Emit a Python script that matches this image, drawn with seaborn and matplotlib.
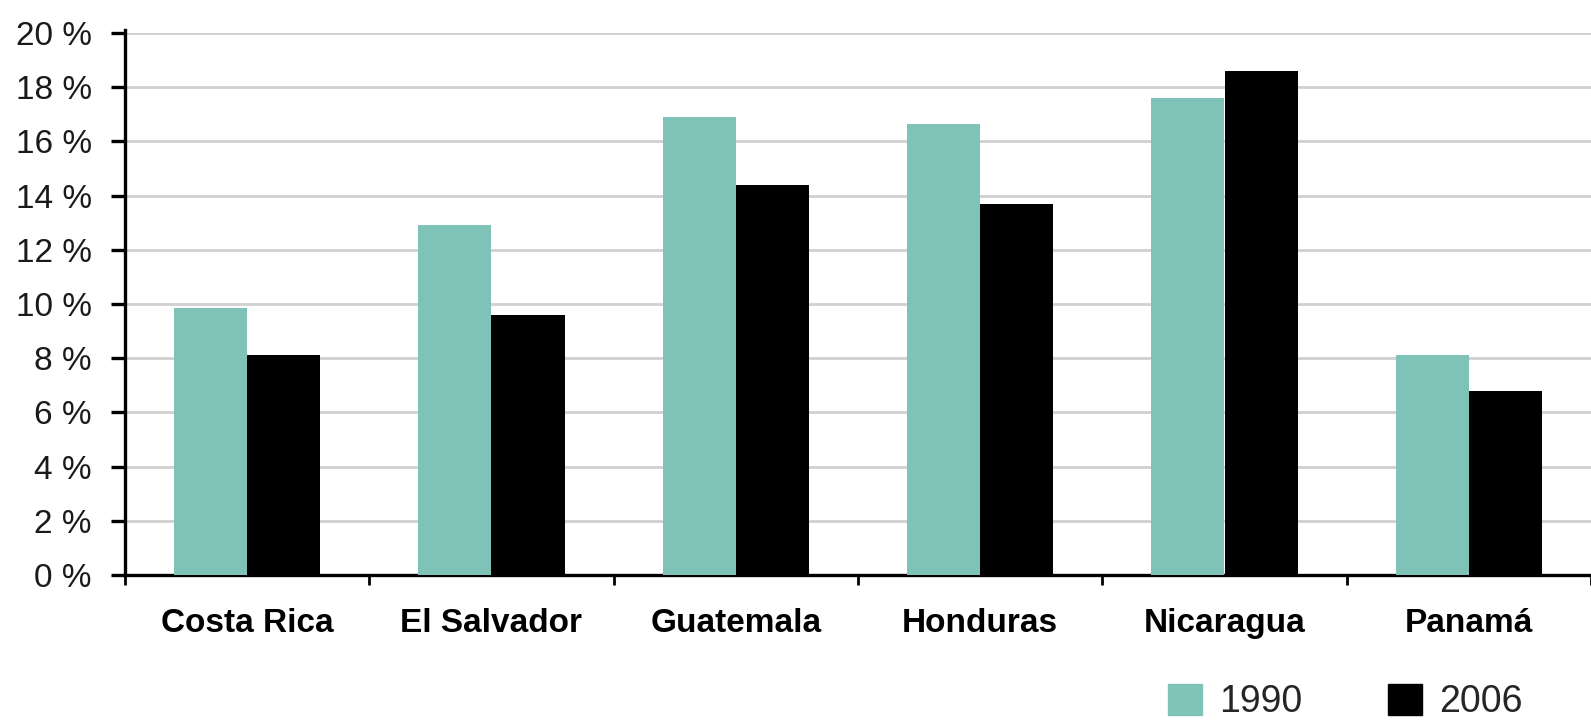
"""
Poverty share by Central American country, 1990 vs 2006.
Grouped bar chart redrawn with seaborn.
"""

import pandas as pd
import matplotlib
matplotlib.use("Agg")
import matplotlib.pyplot as plt
from matplotlib.ticker import FixedLocator
from matplotlib.patches import Patch
import seaborn as sns

COUNTRIES = ["Costa Rica", "El Salvador", "Guatemala",
             "Honduras", "Nicaragua", "Panamá"]
YEARS = ["1990", "2006"]
VALUES_1990 = [9.85, 12.9, 16.9, 16.65, 17.6, 8.1]
VALUES_2006 = [8.1, 9.6, 14.4, 13.7, 18.6, 6.8]
Y_TICKS = [0, 2, 4, 6, 8, 10, 12, 14, 16, 18, 20]

YEAR_COLOURS = {"1990": "#7FC2B8", "2006": "#000000"}
FONT = ["Liberation Sans", "DejaVu Sans"]


def main():
    df = pd.DataFrame({
        "country": COUNTRIES * 2,
        "year": [YEARS[0]] * len(COUNTRIES) + [YEARS[1]] * len(COUNTRIES),
        "value": VALUES_1990 + VALUES_2006,
    })

    sns.set_style("white")
    plt.rcParams["font.family"] = FONT
    fig = plt.figure(figsize=(15.91, 7.24), dpi=100)
    ax = fig.add_axes([125 / 1591, 1 - 575 / 724, 1 - 125 / 1591,
                       (575 - 33) / 724])

    sns.barplot(data=df, x="country", y="value", hue="year",
                palette=YEAR_COLOURS, width=0.6, saturation=1,
                order=COUNTRIES, hue_order=YEARS, ax=ax, legend=False,
                linewidth=0, zorder=3)

    ax.set_xlim(-0.5, len(COUNTRIES) - 0.5)
    ax.set_ylim(0, 20)
    ax.set_xlabel("")
    ax.set_ylabel("")

    # y axis: percent labels, light grid
    ax.set_yticks(Y_TICKS)
    ax.set_yticklabels([f"{t} %" for t in Y_TICKS], fontsize=24,
                       color="#1a1a1a")
    ax.yaxis.grid(True, color="#d0d0d0", linewidth=2.0, zorder=0)
    ax.set_axisbelow(True)
    for side in ["top", "right"]:
        ax.spines[side].set_visible(False)
    for side in ["left", "bottom"]:
        ax.spines[side].set_color("black")
        ax.spines[side].set_linewidth(2.4)
    ax.spines["left"].set_bounds(0, 20.1)
    ax.tick_params(axis="y", direction="out", length=10, width=2.4,
                   color="black", pad=14, left=True)

    # x axis: bold country names, ticks between groups
    ax.set_xticks(range(len(COUNTRIES)))
    ax.set_xticklabels(COUNTRIES, fontweight="bold", fontsize=24,
                       color="black")
    ax.tick_params(axis="x", which="major", length=0, pad=24)
    ax.xaxis.set_minor_locator(FixedLocator(
        [i - 0.5 for i in range(len(COUNTRIES) + 1)]))
    ax.tick_params(axis="x", which="minor", direction="out", length=7,
                   width=2, color="black", bottom=True)

    # legend, bottom right
    handles = [Patch(color=YEAR_COLOURS[y], label=y) for y in YEARS]
    fig.legend(handles=handles, loc="upper left", ncol=2, frameon=False,
               bbox_to_anchor=(1168 / 1591, 1 - 684 / 724),
               prop={"size": 27},
               handlelength=0.9, handleheight=0.9, handletextpad=0.45,
               columnspacing=2.3, borderpad=0, borderaxespad=0)

    fig.savefig("out.png", dpi=100)
    plt.close(fig)


if __name__ == "__main__":
    main()
